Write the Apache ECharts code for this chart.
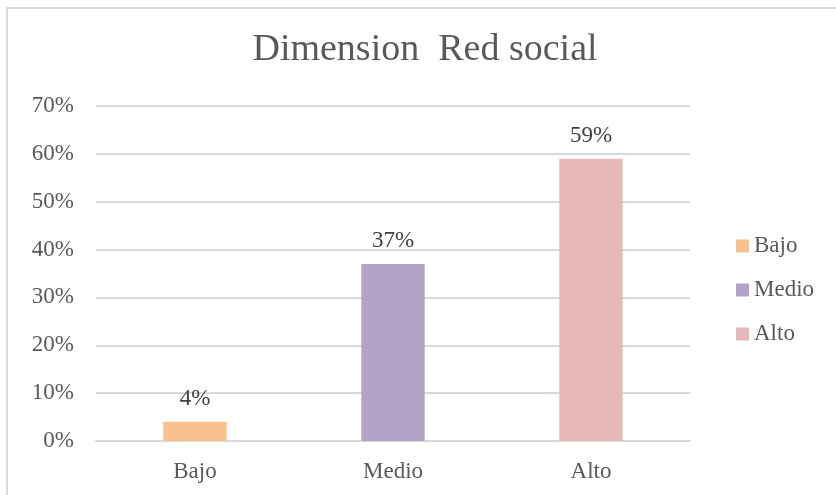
<!DOCTYPE html>
<html><head><meta charset="utf-8">
<script src="https://cdn.jsdelivr.net/npm/echarts@6/dist/echarts.min.js"></script>
<style>html,body{margin:0;padding:0;background:#fff}#c{width:836px;height:495px}</style>
</head><body><div id="c"></div>
<script>
const categories = ['Bajo', 'Medio', 'Alto'];
const values = [0.04, 0.37, 0.59];
const colors = ['#F9C18E', '#B3A2C7', '#E6B9B8'];
const yTicks = [0, 0.1, 0.2, 0.3, 0.4, 0.5, 0.6, 0.7];
const titleText = 'Dimension  Red social';

const FONT = 'Liberation Serif';
const chart = echarts.init(document.getElementById('c'), null, {renderer: 'canvas'});
const series = categories.map((c, i) => ({
  name: c,
  type: 'bar',
  stack: 'all',
  barWidth: '32%',
  data: categories.map((_, j) => j === i ? values[i] : '-'),
  itemStyle: {color: colors[i]},
  label: {show: true, position: 'top', distance: 11, formatter: p => Math.round(p.value * 100) + '%',
    fontFamily: FONT, fontSize: 23, color: '#404040'}
}));
chart.setOption({
  animation: false,
  graphic: [
    {type: 'rect', shape: {x: 7, y: 8, width: 840, height: 500}, style: {fill: 'none', stroke: '#D9D9D9', lineWidth: 2}},
    {type: 'text', x: 425, y: 50, style: {text: titleText, font: '38px "Liberation Serif"', fill: '#595959', align: 'center', verticalAlign: 'middle'}}
  ],
  grid: {left: 96, right: 146, top: 106, bottom: 54},
  legend: {
    orient: 'vertical', left: 731, top: 229, itemGap: 20, itemWidth: 13, itemHeight: 13, icon: 'rect',
    textStyle: {fontFamily: FONT, fontSize: 23, color: '#595959', lineHeight: 24},
    data: categories
  },
  xAxis: {
    type: 'category', data: categories,
    axisLine: {lineStyle: {color: '#D9D9D9', width: 2}}, axisTick: {show: false},
    axisLabel: {fontFamily: FONT, fontSize: 23, color: '#595959', margin: 19}
  },
  yAxis: {
    type: 'value', min: 0, max: 0.7, interval: 0.1,
    axisLine: {show: false}, axisTick: {show: false},
    splitLine: {lineStyle: {color: '#D9D9D9', width: 2}},
    axisLabel: {fontFamily: FONT, fontSize: 23, color: '#595959', margin: 22,
      formatter: v => Math.round(v * 100) + '%'}
  },
  series: series
});
</script></body></html>
